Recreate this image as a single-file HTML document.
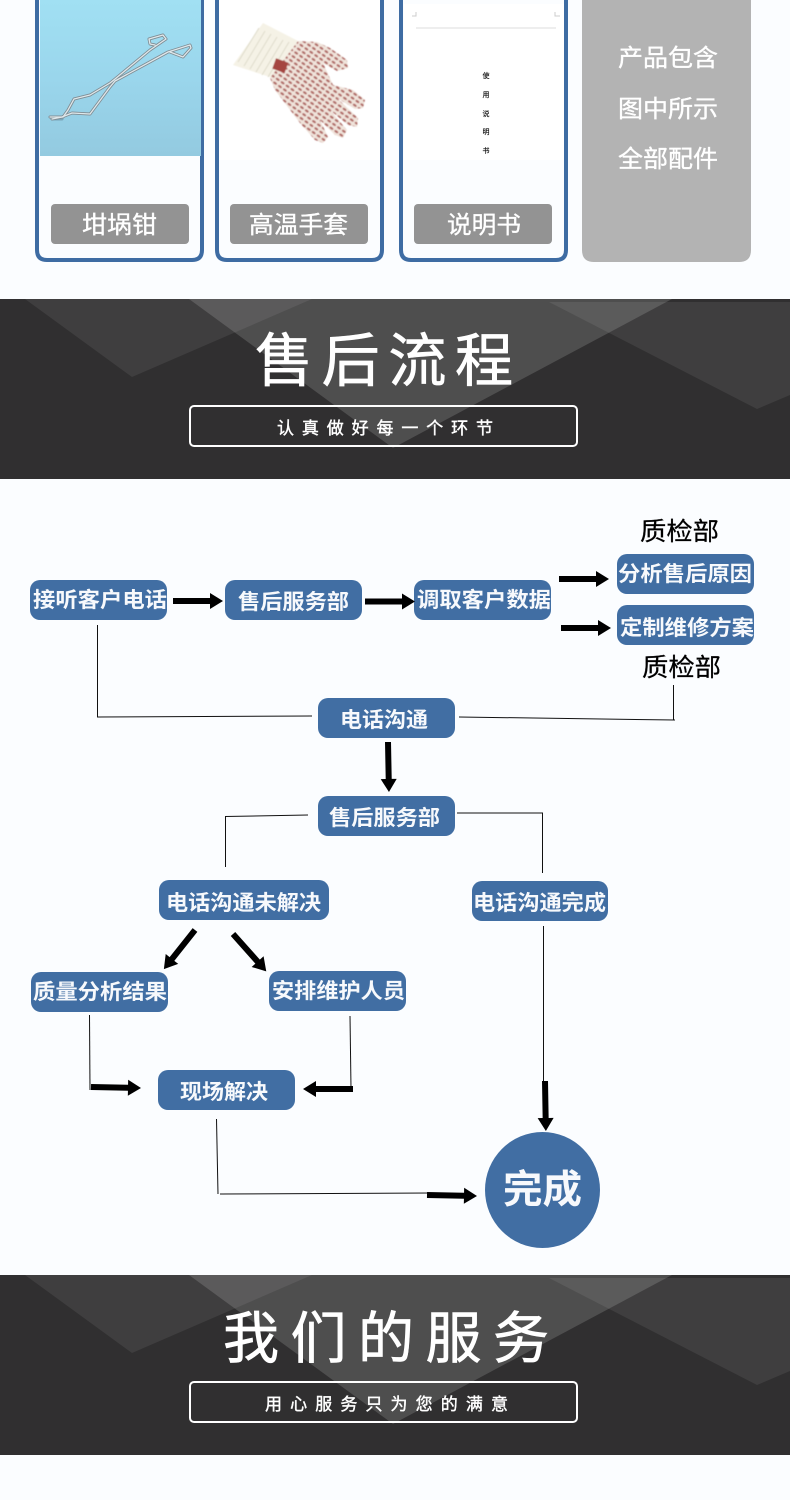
<!DOCTYPE html>
<html lang="zh">
<head>
<meta charset="utf-8">
<title>售后流程</title>
<style>
html,body{margin:0;padding:0;background:#fbfdff;width:790px;height:1500px;overflow:hidden}
svg{display:block}
text{font-family:"Liberation Sans","Noto Sans CJK SC",sans-serif}
.n{font-size:21px;font-weight:700;fill:#f7f9fc;text-anchor:start}
.l{font-size:24px;fill:#fff;stroke:#fff;stroke-width:.35}
.t{fill:#fff;stroke:#fff;stroke-width:.7}
.s{font-size:17px;fill:#fff;stroke:#fff;stroke-width:.4}
.c{stroke:#111;stroke-width:1;fill:none}
.d{font-size:7px;fill:#111;text-anchor:middle;stroke:#111;stroke-width:.15}
</style>
</head>
<body>
<svg xmlns="http://www.w3.org/2000/svg" width="790" height="1500" viewBox="0 0 790 1500">
<defs>
<linearGradient id="sky" x1="0" y1="0" x2="0" y2="1"><stop offset="0" stop-color="#a1e0f3"/><stop offset="0.5" stop-color="#9ad6ec"/><stop offset="1" stop-color="#93cae0"/></linearGradient>
<pattern id="dots" width="6" height="4.6" patternUnits="userSpaceOnUse" patternTransform="rotate(35)">
<rect width="6" height="4.6" fill="#f0e4db"/><ellipse cx="3" cy="2.3" rx="2.2" ry="1.2" fill="#b06a66"/>
</pattern>
<filter id="soft" x="-5%" y="-5%" width="110%" height="110%"><feGaussianBlur stdDeviation=".5"/></filter>
<polygon id="a" points="0,-3 37,-3 37,-8 50,0 37,8 37,3 0,3" fill="#000"/>
<g id="tri">
<rect x="0" y="0" width="790" height="180" fill="#302f30"/>
<polygon points="25,0 132,78 312,0" fill="#fff" fill-opacity=".075"/>
<polygon points="189,0 393,149 672,0" fill="#fff" fill-opacity=".15"/>
<polygon points="549,3 757,110 790,96 790,3" fill="#fff" fill-opacity=".075"/>
</g>
</defs>

<rect width="790" height="1500" fill="#fbfdff"/>

<!-- product cards -->
<rect x="217" y="0" width="165" height="160" fill="#fff"/>
<g filter="url(#soft)">
<polygon points="263,23 298,41 273,78 233,65" fill="#f5f2e6"/>
<g stroke="#dedbcb" stroke-width="1"><path d="M259 28L238 62M265 31L244 66M271 34L250 69M277 37L256 72M283 40L262 75M289 42L268 77"/></g>
<path d="M298 41L317 42L330 48L347 60L348 68L337 71L323 63L333 85L353 90L365 100L363 108L355 109L337 98L358 118L357 127L348 125L330 110L347 130L343 138L335 135L320 120L328 137L323 143L315 140L300 123L275 90L270 78Z" fill="url(#dots)"/>
<rect x="274" y="60" width="13" height="11" fill="#a5443f" transform="rotate(20 280 65)"/>
</g>
<rect x="404" y="4" width="162" height="156" fill="#fff"/>
<path d="M416 28H556" stroke="#ddd" stroke-width="1"/>
<path d="M416 12V16H412M555 12V16H560" stroke="#ccc" stroke-width="1" fill="none"/>
<text class="d" x="486" y="78">使</text>
<text class="d" x="486" y="97">用</text>
<text class="d" x="486" y="116">说</text>
<text class="d" x="486" y="134">明</text>
<text class="d" x="486" y="153">书</text>
<g fill="none" stroke="#3e6ca3" stroke-width="4">
<path d="M37 -5V250Q37 260 47 260H192Q202 260 202 250V-5"/>
<path d="M217 -5V250Q217 260 227 260H372Q382 260 382 250V-5"/>
<path d="M401 -5V250Q401 260 411 260H556Q566 260 566 250V-5"/>
</g>
<rect x="40" y="0" width="161" height="156" fill="url(#sky)"/>
<g fill="none" stroke-linejoin="round" stroke-linecap="round">
<path d="M52 119L62 119" stroke="#5d7c8c" stroke-width="3" opacity=".5"/>
<g stroke="#7f8c93" stroke-width="3">
<path d="M50 117L63 117L68 110L74 99L90 95L110 83L115 79L150 50L166 39L163 35L149 39L150 44L155 45"/>
<path d="M52 119L62 117L72 113L90 114L110 87L115 81L168 52L190 45L191 48L183 57L170 52"/>
</g>
<g stroke="#dfe8eb" stroke-width="1.3">
<path d="M50 117L63 117L68 110L74 99L90 95L110 83L115 79L150 50L166 39L163 35L149 39L150 44L155 45"/>
<path d="M52 119L62 117L72 113L90 114L110 87L115 81L168 52L190 45L191 48L183 57L170 52"/>
</g>
</g>
<path d="M582 -5H751V250Q751 262 739 262H594Q582 262 582 250Z" fill="#b3b3b3"/>
<g fill="#939393">
<rect x="51" y="204" width="138" height="40" rx="4"/>
<rect x="230" y="204" width="138" height="40" rx="4"/>
<rect x="414" y="204" width="138" height="40" rx="4"/>
</g>
<text class="l" x="82" y="233" textLength="75" lengthAdjust="spacingAndGlyphs">坩埚钳</text>
<text class="l" x="249" y="233" textLength="99" lengthAdjust="spacingAndGlyphs">高温手套</text>
<text class="l" x="447" y="233" textLength="74" lengthAdjust="spacingAndGlyphs">说明书</text>
<text class="l" x="618" y="66" textLength="100" lengthAdjust="spacingAndGlyphs">产品包含</text>
<text class="l" x="618" y="117" textLength="100" lengthAdjust="spacingAndGlyphs">图中所示</text>
<text class="l" x="618" y="167" textLength="100" lengthAdjust="spacingAndGlyphs">全部配件</text>

<!-- banner 1 -->
<use href="#tri" x="0" y="299"/>
<text class="t" x="255" y="381" font-size="58" textLength="258" lengthAdjust="spacing">售后流程</text>
<rect x="190" y="406" width="387" height="40" rx="4" fill="none" stroke="#fff" stroke-width="2"/>
<text class="s" x="277" y="434" textLength="216" lengthAdjust="spacing">认真做好每一个环节</text>

<!-- nodes -->
<g fill="#416ea3">
<rect x="30" y="580" width="137" height="40" rx="10"/>
<rect x="225" y="580" width="137" height="40" rx="10"/>
<rect x="414" y="580" width="137" height="40" rx="10"/>
<rect x="617" y="554" width="137" height="40" rx="10"/>
<rect x="617" y="605" width="137" height="40" rx="10"/>
<rect x="318" y="698" width="137" height="40" rx="10"/>
<rect x="318" y="796" width="137" height="40" rx="10"/>
<rect x="159" y="880" width="170" height="40" rx="10"/>
<rect x="472" y="881" width="136" height="40" rx="10"/>
<rect x="31" y="972" width="137" height="40" rx="10"/>
<rect x="269" y="971" width="137" height="40" rx="10"/>
<rect x="158" y="1070" width="137" height="40" rx="10"/>
<ellipse cx="542.5" cy="1190" rx="57.5" ry="58"/>
</g>
<text class="n" x="33" y="607" textLength="134" lengthAdjust="spacingAndGlyphs">接听客户电话</text>
<text class="n" x="238" y="609" textLength="111" lengthAdjust="spacingAndGlyphs">售后服务部</text>
<text class="n" x="417" y="607" textLength="134" lengthAdjust="spacingAndGlyphs">调取客户数据</text>
<text class="n" x="618" y="581" textLength="134" lengthAdjust="spacingAndGlyphs">分析售后原因</text>
<text class="n" x="620" y="635" textLength="134" lengthAdjust="spacingAndGlyphs">定制维修方案</text>
<text class="n" x="340" y="727" textLength="88" lengthAdjust="spacingAndGlyphs">电话沟通</text>
<text class="n" x="329" y="825" textLength="111" lengthAdjust="spacingAndGlyphs">售后服务部</text>
<text class="n" x="166" y="910" textLength="155" lengthAdjust="spacingAndGlyphs">电话沟通未解决</text>
<text class="n" x="473" y="910" textLength="133" lengthAdjust="spacingAndGlyphs">电话沟通完成</text>
<text class="n" x="33" y="999" textLength="134" lengthAdjust="spacingAndGlyphs">质量分析结果</text>
<text class="n" x="272" y="998" textLength="133" lengthAdjust="spacingAndGlyphs">安排维护人员</text>
<text class="n" x="180" y="1099" textLength="88" lengthAdjust="spacingAndGlyphs">现场解决</text>
<text x="503" y="1203" font-size="39" font-weight="700" fill="#f7f9fc" textLength="79" lengthAdjust="spacingAndGlyphs">完成</text>
<text x="640" y="540" font-size="25" fill="#000" stroke="#000" stroke-width=".25" textLength="79" lengthAdjust="spacingAndGlyphs">质检部</text>
<text x="642" y="676" font-size="25" fill="#000" stroke="#000" stroke-width=".25" textLength="79" lengthAdjust="spacingAndGlyphs">质检部</text>

<!-- thin connectors -->
<g>
<path class="c" d="M97.5 625V717"/>
<path class="c" d="M97 717L312 716"/>
<path class="c" d="M459 717L675 720"/>
<path class="c" d="M673.5 685V720"/>
<path class="c" d="M225.5 867V816.5"/>
<path class="c" d="M225 816.5L308 815"/>
<path class="c" d="M457 813H543"/>
<path class="c" d="M542.5 813V873"/>
<path class="c" d="M89.5 1015L90 1090"/>
<path class="c" d="M350 1016L351 1088"/>
<path class="c" d="M216.5 1119L218 1194"/>
<path class="c" d="M220 1194L430 1193"/>
<path class="c" d="M543.5 926V1082"/>
</g>

<!-- thick arrows -->
<use href="#a" transform="translate(173 601)"/>
<use href="#a" transform="translate(365 601.5)"/>
<use href="#a" transform="translate(559 579)"/>
<use href="#a" transform="translate(561 628)"/>
<use href="#a" transform="translate(388 742) rotate(88.9)"/>
<use href="#a" transform="translate(195 930) rotate(128.5)"/>
<use href="#a" transform="translate(233 934) rotate(48.3)"/>
<use href="#a" transform="translate(91 1087) rotate(1.1)"/>
<use href="#a" transform="translate(353 1089) rotate(180)"/>
<use href="#a" transform="translate(427 1195) rotate(1.1)"/>
<use href="#a" transform="translate(545 1081) rotate(89)"/>

<!-- banner 2 -->
<use href="#tri" x="0" y="1275"/>
<text class="t" x="223" y="1358" font-size="56" textLength="326" lengthAdjust="spacing">我们的服务</text>
<rect x="190" y="1382" width="387" height="40" rx="4" fill="none" stroke="#fff" stroke-width="2"/>
<text class="s" x="265" y="1410" textLength="243" lengthAdjust="spacing">用心服务只为您的满意</text>
</svg>
</body>
</html>
